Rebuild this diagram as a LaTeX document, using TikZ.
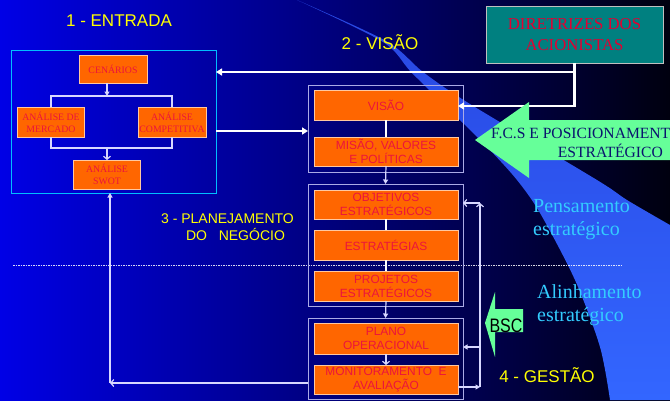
\documentclass[tikz,border=0pt]{standalone}
\usepackage{fontspec}
\usepackage{graphicx}
\setmainfont{Liberation Sans}
\newfontfamily\ser{Liberation Serif}
\usetikzlibrary{arrows.meta}
\definecolor{bgA}{RGB}{0,0,230}
\definecolor{bgB}{RGB}{0,0,170}
\definecolor{bgC}{RGB}{0,0,15}
\definecolor{beamc}{RGB}{51,102,255}
\definecolor{beamt}{RGB}{40,70,225}
\definecolor{orng}{RGB}{255,102,0}
\definecolor{redt}{RGB}{235,20,60}
\definecolor{redd}{RGB}{225,0,50}
\definecolor{tealc}{RGB}{0,128,128}
\definecolor{ylw}{RGB}{255,255,0}
\definecolor{mint}{RGB}{102,255,153}
\definecolor{cyant}{RGB}{51,204,255}
\definecolor{navyt}{RGB}{10,20,110}
\definecolor{lav}{RGB}{170,170,230}
\definecolor{fbc}{RGB}{215,215,255}
\definecolor{cyanb}{RGB}{0,190,255}
\definecolor{peach}{RGB}{255,200,160}
\begin{document}
\begin{tikzpicture}[x=1pt,y=-1pt,
  obox/.style={draw=peach, line width=0.8pt, fill=orng, text=redt, inner sep=0pt, outer sep=0pt, align=center, minimum width=144pt},
  sbox/.style={obox, font=\ser\fontsize{9.8}{12}\selectfont, minimum width=67pt},
  vbox/.style={obox, font=\fontsize{11.9}{14}\selectfont},
  grp/.style={draw=lav, line width=0.8pt, inner sep=0pt, outer sep=0pt, minimum width=155pt},
  captxt/.style={text=ylw, font=\fontsize{17}{20}\selectfont, anchor=base, inner sep=0pt},
  capsm/.style={captxt, font=\fontsize{14}{17}\selectfont},
  cy/.style={text=cyant, font=\ser\fontsize{20}{24}\selectfont, anchor=base west, inner sep=0pt},
  fcs/.style={text=navyt, font=\ser\fontsize{15.6}{18}\selectfont, inner sep=0pt},
  th/.style={draw=white, line width=2.2pt},
  tl/.style={draw=fbc, line width=1.2pt},
  fb/.style={draw=fbc, line width=1.2pt},
  solidtip/.style={-{Triangle[length=6pt,width=7pt]}},
  smalltip/.style={-{Triangle[length=4.5pt,width=5pt]}},
  opentip/.style={-{Straight Barb[length=3pt,width=7pt]}}
]
\path[use as bounding box] (0,0) rectangle (670,400);
\clip (0,0) rectangle (670,400);
% background
\shade[left color=bgA, middle color=bgB, right color=bgC] (0,0) rectangle (670,400);
% light beam
\shade[top color=beamt, middle color=beamc, bottom color=beamc] plot[smooth, tension=0.5] coordinates {(297,0) (383,42) (412,73) (463,123) (490,150) (517,180) (540,213) (575,280) (600,347) (610,400)}
  -- (670,400) -- (670,225)
  -- plot[smooth, tension=0.5] coordinates {(670,225) (627,200) (597,180) (470,104) (423,72) (386,41) (297,0)} -- cycle;
% dotted divider
\draw[white, line width=0.6pt, dash pattern=on 1.5pt off 1pt, opacity=0.85] (13,265) -- (623,265);

% captions
\node[captxt] (c1) at (119,26) {1 - ENTRADA};
\node[captxt] (c2) at (380,49) {2 - VISÃO};
\node[capsm] (c3a) at (227.5,223) {3 - PLANEJAMENTO};
\node[capsm] (c3b) at (235.5,240) {DO\ \ \ NEGÓCIO};
\node[captxt] (c4) at (547,382) {4 - GESTÃO};

\node[cy] (pe1) at (533,212) {Pensamento};
\node[cy] (pe2) at (533,235) {estratégico};
\node[cy] (al1) at (537,298) {Alinhamento};
\node[cy] (al2) at (537,321) {estratégico};

% entrada block
\node[draw=cyanb, line width=0.8pt, minimum width=205pt, minimum height=143pt, inner sep=0pt, outer sep=0pt] (ent) at (113.5,121.5) {};
\node[sbox, minimum width=68pt, minimum height=28pt] (cen) at (113,69) {CENÁRIOS};
\node[sbox, minimum height=30pt] (merc) at (51,122) {ANÁLISE DE\\MERCADO};
\node[sbox, minimum height=30pt, minimum width=68pt] (comp) at (172,122) {ANÁLISE\\COMPETITIVA};
\node[sbox, minimum height=29pt] (swot) at (107,174.5) {ANÁLISE\\SWOT};
\coordinate (b1) at (107,96);
\coordinate (b2) at (107,148);
\draw[tl] (merc.north) -- (merc.north |- b1) -- (comp.north |- b1) -- (comp.north);
\draw[tl, smalltip] (cen.south -| b1) -- (b1);
\draw[tl] (merc.south) -- (merc.south |- b2) -- (comp.south |- b2) -- (comp.south);
\draw[tl, opentip] (b2) -- (swot.north);

% vision / planning / management groups
\node[grp, minimum height=87pt] (g1) at (385.5,128.5) {};
\node[grp, minimum height=122pt] (g2) at (385.5,245) {};
\node[grp, minimum height=81pt] (g3) at (385.5,358.5) {};
\node[vbox, minimum height=30pt] (visao) at (386,105) {VISÃO};
\node[vbox, minimum height=29pt] (missao) at (386,151.5) {MISÃO, VALORES\\E POLÍTICAS};
\node[vbox, minimum height=29pt] (obj) at (386,204.5) {OBJETIVOS\\ESTRATÉGICOS};
\node[vbox, minimum height=30pt] (estr) at (386,245) {ESTRATÉGIAS};
\node[vbox, minimum height=30pt] (proj) at (386,286) {PROJETOS\\ESTRATÉGICOS};
\node[vbox, minimum height=31pt] (plano) at (386,338.5) {PLANO\\OPERACIONAL};
\node[vbox, minimum height=29pt] (monit) at (386,379.5) {MONITORAMENTO\ \ E\\AVALIAÇÃO};
\draw[tl, draw=white] (visao.south) -- (missao.north);
\draw[tl, smalltip] (missao.south) -- (g2.north);
\draw[tl, draw=white] (obj.south) -- (estr.north);
\draw[tl, draw=white] (estr.south) -- (proj.north);
\draw[tl, smalltip] (proj.south) -- (g3.north);
\draw[tl, opentip] (plano.south) -- (monit.north);

% diretrizes
\node[draw=lightgray, line width=0.8pt, fill=tealc, text=redd, font=\ser\fontsize{16.7}{21}\selectfont, align=center, minimum width=177pt, minimum height=57pt, inner sep=0pt, outer sep=0pt] (dir) at (574.5,34.5) {DIRETRIZES DOS\\ACIONISTAS};
\coordinate (j1) at (574.5,72);
\coordinate (j2) at (574.5,106);
\draw[th, solidtip] (dir.south) -- (j2) -- (visao.east |- j2);
\draw[th, solidtip] (j1) -- (ent.east |- j1);
\coordinate (ea) at (300,131);
\draw[th, solidtip] (ent.east |- ea) -- (g1.west |- ea);

% feedback right
\coordinate (r1) at (480,387);
\coordinate (r2) at (480,203);
\coordinate (r3) at (480,347);
\draw[fb, smalltip] (monit.east |- r1) -- (r1);
\draw[fb, opentip] (r1) -- (r2);
\draw[fb, opentip] (r2) -- (g2.east |- r2);
\draw[fb, smalltip] (r3) -- (g3.east |- r3);

% feedback left
\coordinate (l1) at (110,383);
\draw[fb, opentip] (g3.west |- l1) -- (l1);
\draw[fb, smalltip] (l1) -- (ent.south -| l1);

% green arrows
\fill[mint] (475,140) -- (529,102) -- (529,120) -- (690,120) -- (690,160) -- (529,160) -- (529,178) -- cycle;
\node[fcs, anchor=base west] (f1) at (491,138) {F.C.S E POSICIONAMENTO};
\node[fcs, anchor=base east] (f2) at (663,157) {ESTRATÉGICO};
\fill[mint] (485,323) -- (495,292) -- (495,309) -- (523,309) -- (523,332) -- (495,332) -- (495,357) -- cycle;
\node[anchor=base, inner sep=0pt] (bsc) at (506,332) {\scalebox{0.82}[1]{\fontsize{19.5}{20}\selectfont BSC}};
\end{tikzpicture}
\end{document}
